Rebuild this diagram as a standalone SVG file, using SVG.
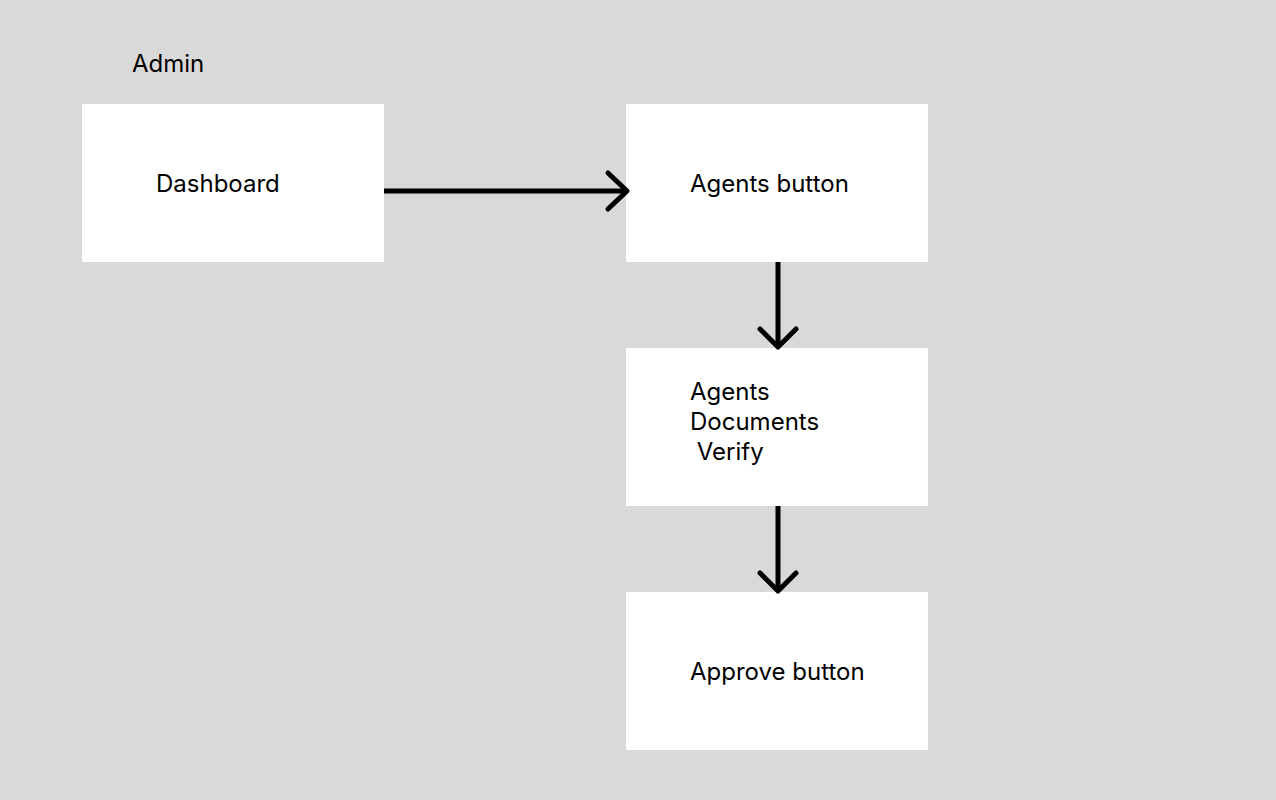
<svg xmlns="http://www.w3.org/2000/svg" width="1276" height="800" viewBox="0 0 1276 800">
<style>
.box{fill:#ffffff}
.t{font-family:Inter,"Liberation Sans",sans-serif;font-size:24px;fill:#000}
.c{stroke:#000;stroke-width:5;fill:none;stroke-linecap:round;stroke-linejoin:round}
</style>
<rect width="1276" height="800" fill="#d9d9d9"/>
<text class="t" x="132" y="72">Admin</text>
<g id="dashboard"><rect class="box" x="82" y="104" width="302" height="158"/><text class="t" x="156" y="192">Dashboard</text></g>
<g id="agents-button"><rect class="box" x="626" y="104" width="302" height="158"/><text class="t" x="690" y="192">Agents button</text></g>
<g id="agents-documents"><rect class="box" x="626" y="348" width="302" height="158"/><text class="t" x="690" y="400">Agents</text><text class="t" x="690" y="430">Documents</text><text class="t" x="690" y="460" xml:space="preserve"> Verify</text></g>
<g id="approve-button"><rect class="box" x="626" y="592" width="302" height="158"/><text class="t" x="690" y="680">Approve button</text></g>
<g id="connectors">
<path class="c" d="M384 191H627" style="stroke-linecap:butt"/>
<path class="c" d="M608 173L627 191L608 209"/>
<path class="c" d="M778 262V347" style="stroke-linecap:butt"/>
<path class="c" d="M760 329L778 347L796 329"/>
<path class="c" d="M778 506V591" style="stroke-linecap:butt"/>
<path class="c" d="M760 573L778 591L796 573"/>
</g>
</svg>
